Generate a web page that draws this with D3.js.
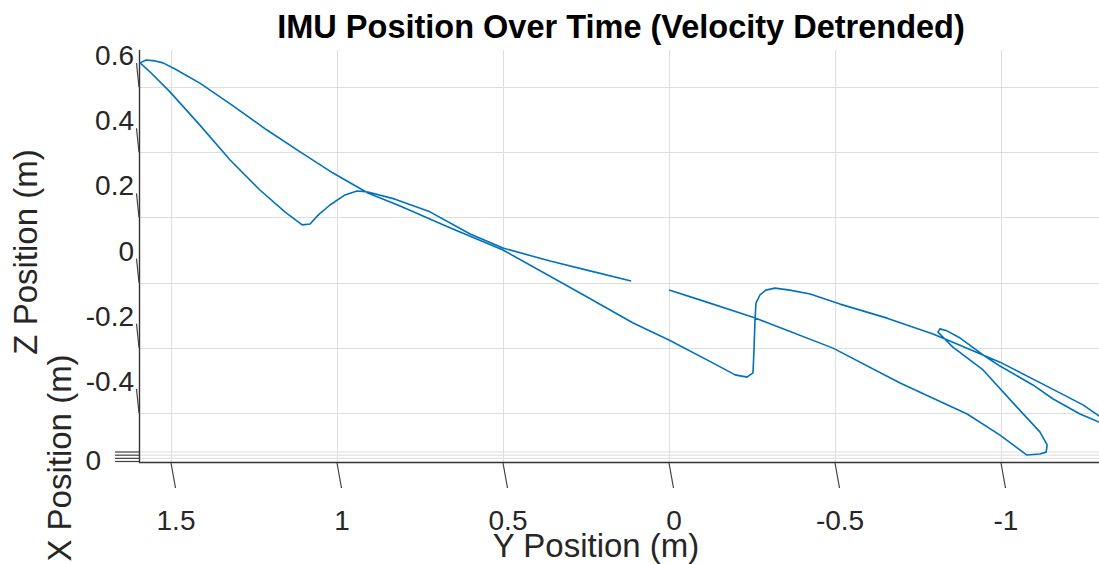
<!DOCTYPE html>
<html>
<head>
<meta charset="utf-8">
<script src="https://cdn.jsdelivr.net/npm/d3@7"></script>
<style>
  body { margin: 0; background: #fff; }
  svg { display: block; }
</style>
</head>
<body>
<div id="chart"></div>
<script>
// trajectory (Y horizontal, Z vertical), in metres
var yPos = [0.114, 0.238, 0.358, 0.500, 0.599, 0.720, 0.825, 0.907, 0.940, 0.976,
  1.021, 1.057, 1.081, 1.105, 1.157, 1.232, 1.322, 1.413, 1.503, 1.563,
  1.593, 1.575, 1.548, 1.524, 1.488, 1.413, 1.313, 1.211, 1.111, 1.012,
  0.907, 0.810, 0.660, 0.500, 0.268, 0.108, 0.000, -0.133, -0.199, -0.235,
  -0.253, -0.256, -0.259, -0.262, -0.274, -0.292, -0.319, -0.364, -0.425, -0.515,
  -0.657, -0.795, -0.846, -0.997, -1.148, -1.247, -1.295, -1.334, -1.295, -1.238,
  -1.157, -1.096, -0.997, -0.946, -0.877, -0.837, -0.816, -0.810, -0.855, -0.946,
  -1.048, -1.117, -1.139, -1.136, -1.117, -1.078, -0.997, -0.898, -0.696, -0.494,
  -0.253, -0.093, 0.000];
var zPos = [0.005, 0.036, 0.066, 0.106, 0.149, 0.217, 0.256, 0.278, 0.281, 0.269,
  0.238, 0.207, 0.180, 0.177, 0.217, 0.284, 0.376, 0.483, 0.585, 0.646,
  0.674, 0.683, 0.680, 0.674, 0.655, 0.612, 0.542, 0.468, 0.401, 0.336,
  0.275, 0.235, 0.168, 0.100, -0.032, -0.124, -0.176, -0.247, -0.283, -0.290,
  -0.277, -0.207, -0.115, -0.063, -0.038, -0.023, -0.017, -0.023, -0.035, -0.066,
  -0.109, -0.158, -0.179, -0.244, -0.323, -0.375, -0.409, -0.434, -0.428, -0.403,
  -0.357, -0.314, -0.256, -0.222, -0.170, -0.148, -0.142, -0.152, -0.198, -0.268,
  -0.382, -0.458, -0.498, -0.520, -0.526, -0.529, -0.468, -0.403, -0.308, -0.201,
  -0.106, -0.053, -0.023];

var yTicks = [1.5, 1, 0.5, 0, -0.5, -1];
var zTicks = [0.6, 0.4, 0.2, 0, -0.2, -0.4];
var xTickLabels = ["", "", "", "0"];

var title = "IMU Position Over Time (Velocity Detrended)";
var yLabel = "Y Position (m)";
var zLabel = "Z Position (m)";
var xLabel = "X Position (m)";

var W = 1099, H = 564;
var box = { left: 139, top: 50, right: 1099, bottom: 463 };
var font = "'Liberation Sans', Arial, Helvetica, sans-serif";

var y = d3.scaleLinear().domain([1.5, -1]).range([171, 1001]);
var z = d3.scaleLinear().domain([0.6, -0.4]).range([87, 413]);
// X depth is seen almost edge-on, squeezed into a few pixels near the floor
var xd = d3.scalePoint().domain(d3.range(xTickLabels.length)).range([452, 461.5]);

var svg = d3.select("#chart").append("svg")
  .attr("width", W)
  .attr("height", H);

svg.append("rect").attr("width", W).attr("height", H).attr("fill", "#fff");

svg.append("clipPath").attr("id", "plotclip")
  .append("rect")
  .attr("x", box.left).attr("y", box.top - 20)
  .attr("width", box.right - box.left).attr("height", box.bottom - box.top + 20);

// grid
var grid = svg.append("g").attr("stroke", "#dedede").attr("stroke-width", 1);
grid.selectAll("line.vg").data(yTicks).enter().append("line")
  .attr("class", "vg")
  .attr("x1", d => Math.round(y(d)) + 0.5).attr("x2", d => Math.round(y(d)) + 0.5)
  .attr("y1", box.top).attr("y2", box.bottom);
grid.selectAll("line.hg").data(zTicks).enter().append("line")
  .attr("class", "hg")
  .attr("x1", box.left).attr("x2", box.right)
  .attr("y1", d => Math.round(z(d)) + 0.5).attr("y2", d => Math.round(z(d)) + 0.5);
grid.selectAll("line.fg").data(d3.range(xTickLabels.length - 1)).enter().append("line")
  .attr("class", "fg")
  .attr("x1", box.left).attr("x2", box.right)
  .attr("y1", d => xd(d)).attr("y2", d => xd(d));

// axis lines
var axisCol = "#333";
svg.append("line")
  .attr("x1", box.left).attr("x2", box.right)
  .attr("y1", box.bottom - 0.5).attr("y2", box.bottom - 0.5)
  .attr("stroke", axisCol).attr("stroke-width", 1.6);
svg.append("line")
  .attr("x1", box.left + 0.5).attr("x2", box.left + 0.5)
  .attr("y1", box.top).attr("y2", box.bottom)
  .attr("stroke", axisCol).attr("stroke-width", 1.4);

// trajectory
var pts = yPos.map((v, i) => [v, zPos[i]]);
var line = d3.line().x(d => y(d[0])).y(d => z(d[1]));
svg.append("path")
  .datum(pts)
  .attr("clip-path", "url(#plotclip)")
  .attr("d", line)
  .attr("fill", "none")
  .attr("stroke", "#0072BD")
  .attr("stroke-width", 1.6)
  .attr("stroke-linejoin", "round");

// Y ticks (slanted, they run along the X depth direction)
svg.selectAll("line.yt").data(yTicks).enter().append("line")
  .attr("x1", d => y(d)).attr("y1", box.bottom)
  .attr("x2", d => y(d) + 4.5).attr("y2", box.bottom + 25)
  .attr("stroke", "#404040").attr("stroke-width", 1.2);
svg.selectAll("text.yl").data(yTicks).enter().append("text")
  .attr("x", d => y(d) + 5).attr("y", 530)
  .attr("text-anchor", "middle")
  .attr("font-family", font).attr("font-size", 28).attr("fill", "#262626")
  .text(d => String(d));

// Z ticks
svg.selectAll("line.zt").data(zTicks).enter().append("line")
  .attr("x1", box.left).attr("y1", d => z(d))
  .attr("x2", box.left - 2.5).attr("y2", d => z(d) - 24)
  .attr("stroke", "#404040").attr("stroke-width", 1.2);
svg.selectAll("text.zl").data(zTicks).enter().append("text")
  .attr("x", 134).attr("y", d => z(d) - 22)
  .attr("text-anchor", "end")
  .attr("font-family", font).attr("font-size", 28).attr("fill", "#262626")
  .text(d => String(d));

// X ticks, seen end-on
svg.selectAll("line.xt").data(d3.range(xTickLabels.length)).enter().append("line")
  .attr("x1", 115).attr("x2", box.left)
  .attr("y1", d => xd(d)).attr("y2", d => xd(d))
  .attr("stroke", "#404040").attr("stroke-width", 1.2);
svg.append("text")
  .attr("x", 101).attr("y", 470)
  .attr("text-anchor", "end")
  .attr("font-family", font).attr("font-size", 28).attr("fill", "#262626")
  .text(xTickLabels[xTickLabels.length - 1]);

// labels
svg.append("text")
  .attr("x", 596).attr("y", 557)
  .attr("text-anchor", "middle")
  .attr("font-family", font).attr("font-size", 33).attr("fill", "#262626")
  .text(yLabel);
svg.append("text")
  .attr("transform", "translate(37,252) rotate(-90)")
  .attr("text-anchor", "middle")
  .attr("font-family", font).attr("font-size", 33).attr("fill", "#262626")
  .text(zLabel);
svg.append("text")
  .attr("transform", "translate(71,458) rotate(-90)")
  .attr("text-anchor", "middle")
  .attr("font-family", font).attr("font-size", 33).attr("fill", "#262626")
  .text(xLabel);

svg.append("text")
  .attr("x", 621).attr("y", 38)
  .attr("text-anchor", "middle")
  .attr("font-family", font).attr("font-size", 32.5).attr("font-weight", "bold")
  .attr("fill", "#000")
  .text(title);
</script>
</body>
</html>
